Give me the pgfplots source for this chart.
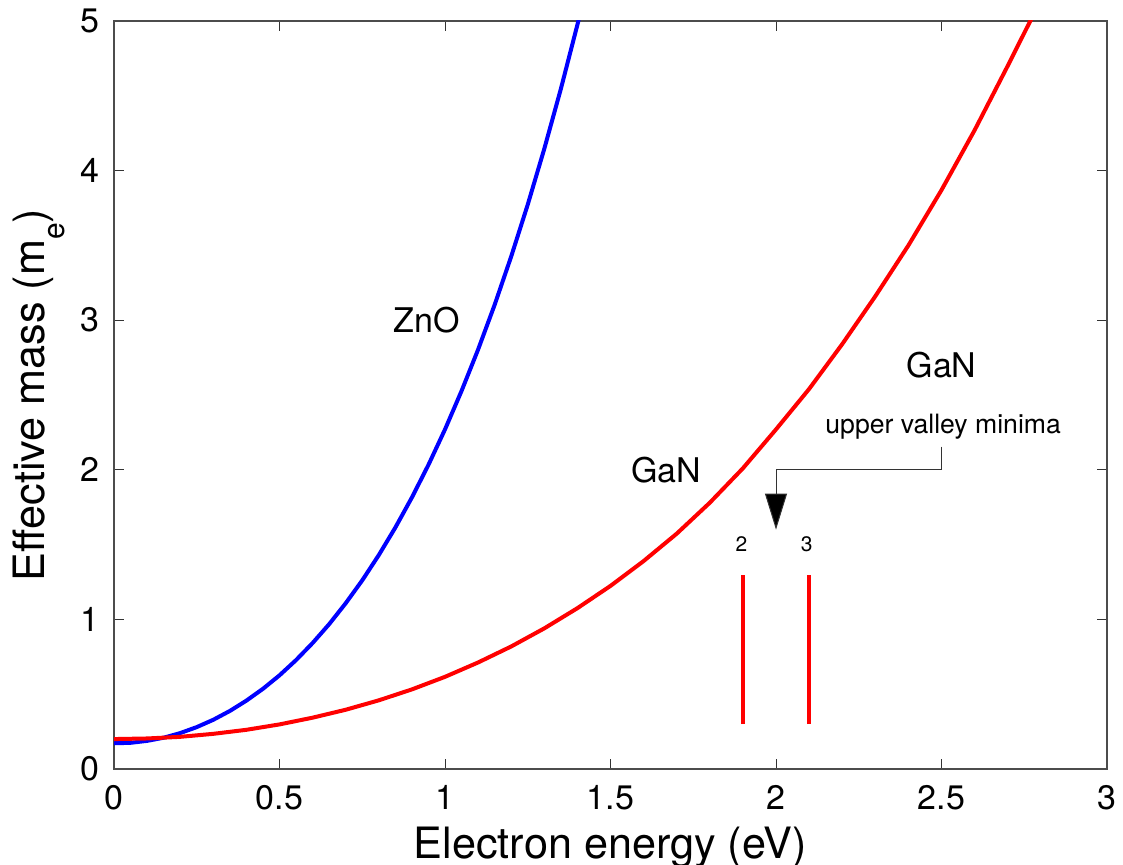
\documentclass[border=0pt]{standalone}
\usepackage{pgfplots}
\pgfplotsset{compat=1.18}
\usepackage{fontspec}
\setmainfont{TeX Gyre Heros}
\usetikzlibrary{arrows.meta}
\begin{document}
\begin{tikzpicture}
\path[use as bounding box] (-57pt,-48pt) rectangle (504.5pt,384.5pt);
\begin{axis}[
  at={(0pt,0pt)}, anchor=south west,
  scale only axis, width=496.5pt, height=374pt,
  xmin=0, xmax=3, ymin=0, ymax=5,
  xtick={0,0.5,1,1.5,2,2.5,3},
  ytick={0,1,2,3,4,5},
  xticklabels={0,0.5,1,1.5,2,2.5,3},
  yticklabels={0,1,2,3,4,5},
  tick align=inside,
  major tick length=5pt,
  every tick/.style={black!80, line width=0.5pt},
  axis line style={black!70, line width=0.6pt},
  tick label style={font=\fontsize{17}{20}\selectfont, inner sep=0pt},
  xticklabel style={anchor=north, yshift=-8pt},
  yticklabel style={anchor=east, xshift=-7pt},
  xlabel={Electron energy (eV)},
  ylabel={Effective mass (m\raisebox{-10pt}{\fontsize{15}{17}\selectfont e})},
  label style={font=\fontsize{21.6}{24}\selectfont, inner sep=0pt},
  xlabel style={at={(axis description cs:0.5,-0.119)}, anchor=base},
  ylabel style={at={(axis description cs:-0.0695,0.5)}, anchor=base},
]
% ZnO
\addplot[blue, line width=2pt] coordinates {
(0.00,0.172) (0.05,0.175) (0.10,0.188) (0.15,0.209) (0.20,0.240) (0.25,0.280)
(0.30,0.329) (0.35,0.388) (0.40,0.457) (0.45,0.536) (0.50,0.626) (0.55,0.728)
(0.60,0.842) (0.65,0.968) (0.70,1.108) (0.75,1.261) (0.80,1.430) (0.85,1.614)
(0.90,1.815) (0.95,2.033) (1.00,2.270) (1.05,2.527) (1.10,2.804) (1.15,3.103)
(1.20,3.426) (1.25,3.773) (1.30,4.146) (1.35,4.546) (1.40,4.975) (1.45,5.434)
};
% GaN
\addplot[red, line width=2pt] coordinates {
(0.0,0.200) (0.1,0.204) (0.2,0.215) (0.3,0.235) (0.4,0.262) (0.5,0.298)
(0.6,0.343) (0.7,0.396) (0.8,0.459) (0.9,0.532) (1.0,0.616) (1.1,0.712)
(1.2,0.819) (1.3,0.940) (1.4,1.075) (1.5,1.224) (1.6,1.390) (1.7,1.573)
(1.8,1.780) (1.9,2.010) (2.0,2.270) (2.1,2.540) (2.2,2.840) (2.3,3.160)
(2.4,3.500) (2.5,3.870) (2.6,4.270) (2.7,4.700) (2.8,5.140)
};
% upper valley minima
\addplot[red, line width=2pt] coordinates {(1.9,0.3) (1.9,1.3)};
\addplot[red, line width=2pt] coordinates {(2.1,0.3) (2.1,1.3)};

\node[font=\fontsize{17}{20}\selectfont] at (axis cs:0.944,3.0) {ZnO};
\node[font=\fontsize{17}{20}\selectfont] at (axis cs:1.668,2.0) {GaN};
\node[font=\fontsize{17}{20}\selectfont] at (axis cs:2.50,2.70) {GaN};
\node[font=\fontsize{13.3}{15}\selectfont] at (axis cs:2.505,2.289) {upper valley minima};
\node[font=\fontsize{10.5}{12}\selectfont] at (axis cs:1.896,1.505) {2};
\node[font=\fontsize{10.5}{12}\selectfont] at (axis cs:2.093,1.505) {3};
\draw[black!80, line width=0.5pt, -{Triangle[length=18pt,width=11pt,fill=black]}]
  (axis cs:2.5,2.155) -- (axis cs:2.5,2.0) -- (axis cs:2.0,2.0) -- (axis cs:2.0,1.6);
\end{axis}
\end{tikzpicture}
\end{document}
